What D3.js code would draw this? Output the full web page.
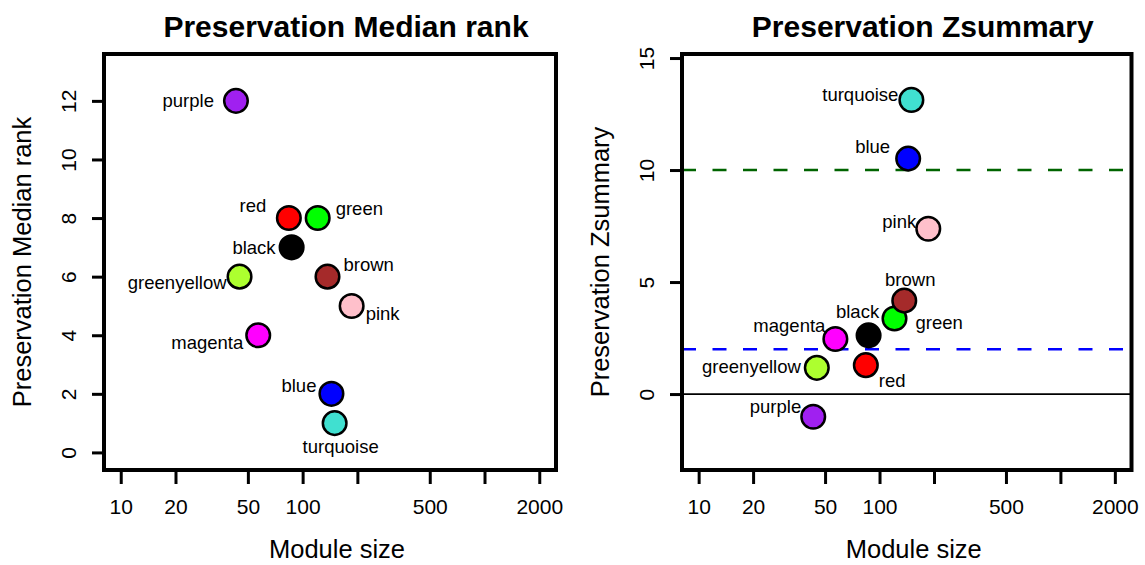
<!DOCTYPE html>
<html>
<head>
<meta charset="utf-8">
<script src="https://cdn.jsdelivr.net/npm/d3@7"></script>
<style>
  body { margin: 0; background: #fff; }
  svg { display: block; }
  text { font-family: "Liberation Sans", Arial, Helvetica, sans-serif; fill: #000; }
</style>
</head>
<body>
<div id="chart"></div>
<script>
// Module data (same modules in both panels)
var modules = ["purple", "greenyellow", "magenta", "red", "black", "green", "brown", "blue", "turquoise", "pink"];
var moduleSize = [43, 45, 57, 84, 87, 121, 137, 144, 150, 186];
var medianRank = [12, 6, 4, 8, 7, 8, 6, 2, 1, 5];
var zsummary = [-1.01, 1.17, 2.46, 1.29, 2.62, 3.37, 4.17, 10.51, 13.13, 7.38];

// Axis ticks
var xTicks = [10, 20, 50, 100, 200, 500, 1000, 2000];
var xTickLabels = ["10", "20", "50", "100", "", "500", "", "2000"];
var rankTicks = [0, 2, 4, 6, 8, 10, 12];
var zTicks = [0, 5, 10, 15];

// Zsummary thresholds (value, colour)
var zThresholds = [2, 10];
var zThresholdColors = ["#0000FF", "#006400"];

// R colour names -> hex
var rColors = {
    purple: "#A020F0", greenyellow: "#ADFF2F", magenta: "#FF00FF", red: "#FF0000",
    black: "#000000", green: "#00FF00", brown: "#A52A2A", blue: "#0000FF",
    turquoise: "#40E0D0", pink: "#FFC0CB"
};

// Label placement around points: [dx, dy, anchor]
var rankLabelPos = {
    purple: [-22, 0, "end"], red: [-36, -13, "middle"], green: [18, -10, "start"],
    black: [-16, 0, "end"], greenyellow: [-13, 6, "end"], brown: [16, -12, "start"],
    pink: [14, 8, "start"], magenta: [-15, 7, "end"], blue: [-15, -8, "end"],
    turquoise: [6, 23, "middle"]
};
var zLabelPos = {
    turquoise: [-13, -5, "end"], blue: [-18, -12, "end"], pink: [-12, -7, "end"],
    brown: [6, -21, "middle"], black: [-11, -24, "middle"], green: [21, 4, "start"],
    magenta: [-10, -13, "end"], greenyellow: [-16, -1, "end"], red: [13, 15, "start"],
    purple: [-12, -10, "end"]
};

var w = 1145, h = 565;
var plotTop = 54, plotBottom = 470;

var svg = d3.select("#chart").append("svg")
    .attr("width", w)
    .attr("height", h);

// log x limits 10..2000 extended by 4% like R
var lo = Math.log10(10), hi = Math.log10(2000), ext = (hi - lo) * 0.04;
var xDomain = [Math.pow(10, lo - ext), Math.pow(10, hi + ext)];

function panel(opts) {
    var g = svg.append("g");
    var x = d3.scaleLog().domain(xDomain).range([opts.left, opts.right]);
    var y = d3.scaleLinear().domain(opts.yDomain).range([plotBottom, plotTop]);
    var mid = (opts.left + opts.right) / 2;

    // reference lines
    (opts.hlines || []).forEach(function(l) {
        g.append("line")
            .attr("x1", opts.left).attr("x2", opts.right)
            .attr("y1", y(l.value)).attr("y2", y(l.value))
            .attr("stroke", l.color)
            .attr("stroke-width", l.width)
            .attr("stroke-dasharray", l.dash || null);
    });

    // x axis
    var xa = g.append("g")
        .attr("transform", "translate(0," + plotBottom + ")")
        .call(d3.axisBottom(x).tickValues(xTicks)
            .tickFormat(function(d, i) { return xTickLabels[i]; })
            .tickSize(14).tickSizeOuter(0));
    xa.select(".domain").remove();
    xa.selectAll("line").attr("stroke", "#000").attr("stroke-width", 3);
    xa.selectAll("text").attr("y", 43.5).attr("dy", 0)
        .style("font-size", "21px").attr("fill", "#000");

    // y axis
    var ya = g.append("g")
        .attr("transform", "translate(" + opts.left + ",0)")
        .call(d3.axisLeft(y).tickValues(opts.yTicks).tickSize(12).tickSizeOuter(0));
    ya.select(".domain").remove();
    ya.selectAll("line").attr("stroke", "#000").attr("stroke-width", 3);
    ya.selectAll("text")
        .attr("x", 0).attr("dy", 0)
        .attr("text-anchor", "middle")
        .attr("transform", "translate(-28,0) rotate(-90)")
        .style("font-size", "21px").attr("fill", "#000");

    // box
    g.append("rect")
        .attr("x", opts.left).attr("y", plotTop)
        .attr("width", opts.right - opts.left).attr("height", plotBottom - plotTop)
        .attr("fill", "none").attr("stroke", "#000").attr("stroke-width", 4);

    // title and axis titles
    g.append("text")
        .attr("x", mid + 16).attr("y", 37)
        .attr("text-anchor", "middle")
        .style("font-size", "30px").style("font-weight", "bold")
        .text(opts.title);
    g.append("text")
        .attr("x", mid + 7).attr("y", 558)
        .attr("text-anchor", "middle")
        .style("font-size", "25.5px")
        .text("Module size");
    g.append("text")
        .attr("transform", "translate(" + (opts.left - 73) + "," + ((plotTop + plotBottom) / 2) + ") rotate(-90)")
        .attr("text-anchor", "middle")
        .style("font-size", "25.5px")
        .text(opts.yTitle);

    // points
    g.selectAll("circle")
        .data(modules)
        .enter()
        .append("circle")
        .attr("cx", function(d, i) { return x(moduleSize[i]); })
        .attr("cy", function(d, i) { return y(opts.values[i]); })
        .attr("r", 11.8)
        .attr("fill", function(d) { return rColors[d]; })
        .attr("stroke", "#000")
        .attr("stroke-width", 2.5);

    // point labels
    g.selectAll("text.lab")
        .data(modules)
        .enter()
        .append("text")
        .attr("class", "lab")
        .attr("x", function(d, i) { return x(moduleSize[i]) + opts.labelPos[d][0]; })
        .attr("y", function(d, i) { return y(opts.values[i]) + opts.labelPos[d][1]; })
        .attr("dy", "0.35em")
        .attr("text-anchor", function(d) { return opts.labelPos[d][2]; })
        .style("font-size", "18.5px")
        .attr("fill", "#222")
        .text(function(d) { return d; });
}

panel({
    left: 104, right: 556,
    yDomain: [-0.6, 13.6],
    yTicks: rankTicks,
    values: medianRank,
    title: "Preservation Median rank",
    yTitle: "Preservation Median rank",
    labelPos: rankLabelPos
});

panel({
    left: 682, right: 1131.5,
    yDomain: [-3.39, 15.18],
    yTicks: zTicks,
    values: zsummary,
    title: "Preservation Zsummary",
    yTitle: "Preservation Zsummary",
    labelPos: zLabelPos,
    hlines: [
        { value: 0, color: "#000", width: 1.8 },
        { value: zThresholds[0], color: zThresholdColors[0], width: 2.5, dash: "14,16.5" },
        { value: zThresholds[1], color: zThresholdColors[1], width: 2.5, dash: "14,16.5" }
    ]
});
</script>
</body>
</html>
